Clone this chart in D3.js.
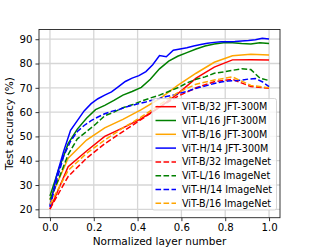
<!DOCTYPE html>
<html>
<head>
<meta charset="utf-8">
<script src="https://cdn.jsdelivr.net/npm/d3@7"></script>
<style>
  body { margin: 0; background: #fff; }
  text { font-family: "DejaVu Sans", sans-serif; }
</style>
</head>
<body>
<svg></svg>
<script>
// normalized layer positions for each model depth
const layersB = [0, .083, .167, .25, .333, .417, .5, .583, .667, .75, .833, .917, 1];
const layersL = [0, .042, .083, .125, .167, .208, .25, .292, .333, .375, .417, .458, .5,
                 .542, .583, .625, .667, .708, .75, .792, .833, .875, .917, .958, 1];
const layersH = [0, .031, .063, .094, .125, .156, .188, .219, .25, .281, .313, .344, .375,
                 .406, .438, .469, .5, .531, .563, .594, .625, .656, .688, .719, .75,
                 .781, .813, .844, .875, .906, .938, .969, 1];

// test accuracy (%)
const b32Jft = [20, 37.5, 44, 50, 53.5, 57.3, 62, 67.5, 74, 78.5, 81.5, 81.6, 81.4];
const l16Jft = [25.5, 37, 47, 53, 57.5, 61, 62.8, 64.8, 67, 68.5, 70.2, 73.5, 77.8,
                81, 83, 84.5, 86, 87.2, 88, 88.5, 88.5, 88.2, 88, 88.5, 88.2];
const b16Jft = [24, 41, 48.5, 53.5, 57, 61, 65.5, 71, 76, 80.5, 83.2, 83.8, 83.5];
const h14Jft = [21.5, 34, 44, 52.5, 56.5, 60.5, 63.5, 65.5, 67, 68.3, 70.5, 72.6, 74,
                75, 76.7, 79.5, 83.3, 82.8, 85.5, 86, 86.5, 87.2, 87.8, 88.3, 88.7,
                89, 89, 89.1, 89.3, 89.5, 89.8, 90.4, 90.1];
const b32In = [20.2, 33.5, 41, 47, 52, 57, 62, 66.5, 70, 72.5, 73.5, 70.5, 69.8];
const l16In = [24, 33, 42.5, 49, 52, 55, 58.5, 60, 61.8, 63, 64.5, 65.8, 67, 68.5, 70,
               72, 73.5, 74.5, 76, 76.5, 77.2, 77.8, 77.5, 74, 73];
const h14In = [21, 32, 42, 48, 52, 54.5, 56.5, 58, 59.3, 60.3, 61, 62, 62.8, 63.5, 64.2,
               65, 65.6, 66.4, 67, 67.8, 68.5, 69.5, 70.3, 71, 71.8, 72.4, 72.8, 72.9,
               73.2, 73.6, 73.8, 72.5, 70.5];
const b16In = [22, 36, 43, 48.5, 53.5, 58, 63, 68, 71.5, 73.2, 74.5, 71, 70];

const seriesNames = ['ViT-B/32 JFT-300M', 'ViT-L/16 JFT-300M', 'ViT-B/16 JFT-300M', 'ViT-H/14 JFT-300M',
                     'ViT-B/32 ImageNet', 'ViT-L/16 ImageNet', 'ViT-H/14 ImageNet', 'ViT-B/16 ImageNet'];
const seriesX = [layersB, layersL, layersB, layersH, layersB, layersL, layersH, layersB];
const seriesY = [b32Jft, l16Jft, b16Jft, h14Jft, b32In, l16In, h14In, b16In];
const colors = ['red', 'green', 'orange', 'blue', 'red', 'green', 'blue', 'orange'];
const dashed = [false, false, false, false, true, true, true, true];

const xTicks = [0, 0.2, 0.4, 0.6, 0.8, 1.0];
const yTicks = [20, 30, 40, 50, 60, 70, 80, 90];

let svgWidth = 312,
    svgHeight = 249;

let svg = d3.select('svg')
            .attr('width', svgWidth)
            .attr('height', svgHeight);

let plotLeft = 39, plotRight = 280, plotTop = 29.5, plotBottom = 217.7;

let x = d3.scaleLinear().domain([-0.05, 1.05]).range([plotLeft, plotRight]);
let y = d3.scaleLinear().domain([16.55, 94.0]).range([plotBottom, plotTop]);

// grid
svg.append('g')
   .selectAll('line')
   .data(xTicks)
   .join('line')
   .attr('x1', d => x(d)).attr('x2', d => x(d))
   .attr('y1', plotTop).attr('y2', plotBottom)
   .attr('stroke', '#d6d6d6')
   .attr('stroke-width', 1.3);

svg.append('g')
   .selectAll('line')
   .data(yTicks)
   .join('line')
   .attr('x1', plotLeft).attr('x2', plotRight)
   .attr('y1', d => y(d)).attr('y2', d => y(d))
   .attr('stroke', '#d6d6d6')
   .attr('stroke-width', 1.3);

// curves
let line = d3.line()
             .x(d => x(d[0]))
             .y(d => y(d[1]));

let plot = svg.append('g');
seriesY.forEach((vals, i) => {
  let pts = vals.map((v, j) => [seriesX[i][j], v]);
  plot.append('path')
      .attr('d', line(pts))
      .attr('fill', 'none')
      .attr('stroke', colors[i])
      .attr('stroke-width', 1.5)
      .attr('stroke-dasharray', dashed[i] ? '5.6,2.4' : null);
});

// axes
let xAxis = svg.append('g')
               .attr('transform', `translate(0,${plotBottom})`)
               .call(d3.axisBottom(x).tickValues(xTicks).tickFormat(d3.format('.1f')).tickSize(3.5).tickPadding(3));
let yAxis = svg.append('g')
               .attr('transform', `translate(${plotLeft},0)`)
               .call(d3.axisLeft(y).tickValues(yTicks).tickSize(3.5).tickPadding(3));

[xAxis, yAxis].forEach(a => {
  a.select('.domain').remove();
  a.selectAll('text').attr('font-size', 10.2).attr('fill', '#000')
   .style('font-family', '"DejaVu Sans", sans-serif');
  a.selectAll('line').attr('stroke', '#000').attr('stroke-width', 0.8);
});

// frame
svg.append('rect')
   .attr('x', plotLeft).attr('y', plotTop)
   .attr('width', plotRight - plotLeft).attr('height', plotBottom - plotTop)
   .attr('fill', 'none')
   .attr('stroke', '#222')
   .attr('stroke-width', 0.9);

// axis labels
svg.append('text')
   .attr('x', (plotLeft + plotRight) / 2).attr('y', 245)
   .attr('text-anchor', 'middle')
   .attr('font-size', 10.5)
   .text('Normalized layer number');

svg.append('text')
   .attr('transform', `translate(13,${(plotTop + plotBottom) / 2}) rotate(-90)`)
   .attr('text-anchor', 'middle')
   .attr('font-size', 10.5)
   .text('Test accuracy (%)');

// legend
let legend = svg.append('g');
legend.append('rect')
      .attr('x', 152).attr('y', 98.5)
      .attr('width', 124.5).attr('height', 111.5)
      .attr('rx', 2)
      .attr('fill', '#fff').attr('fill-opacity', 0.8)
      .attr('stroke', '#cccccc').attr('stroke-width', 0.8);

seriesNames.forEach((name, i) => {
  let ry = 106.7 + i * 13.8;
  legend.append('line')
        .attr('x1', 155.5).attr('x2', 176)
        .attr('y1', ry).attr('y2', ry)
        .attr('stroke', colors[i])
        .attr('stroke-width', 1.5)
        .attr('stroke-dasharray', dashed[i] ? '5.6,2.4' : null);
  legend.append('text')
        .attr('x', 182).attr('y', ry + 3.5)
        .attr('font-size', 9.6)
        .attr('fill', '#000')
        .text(name);
});
</script>
</body>
</html>
